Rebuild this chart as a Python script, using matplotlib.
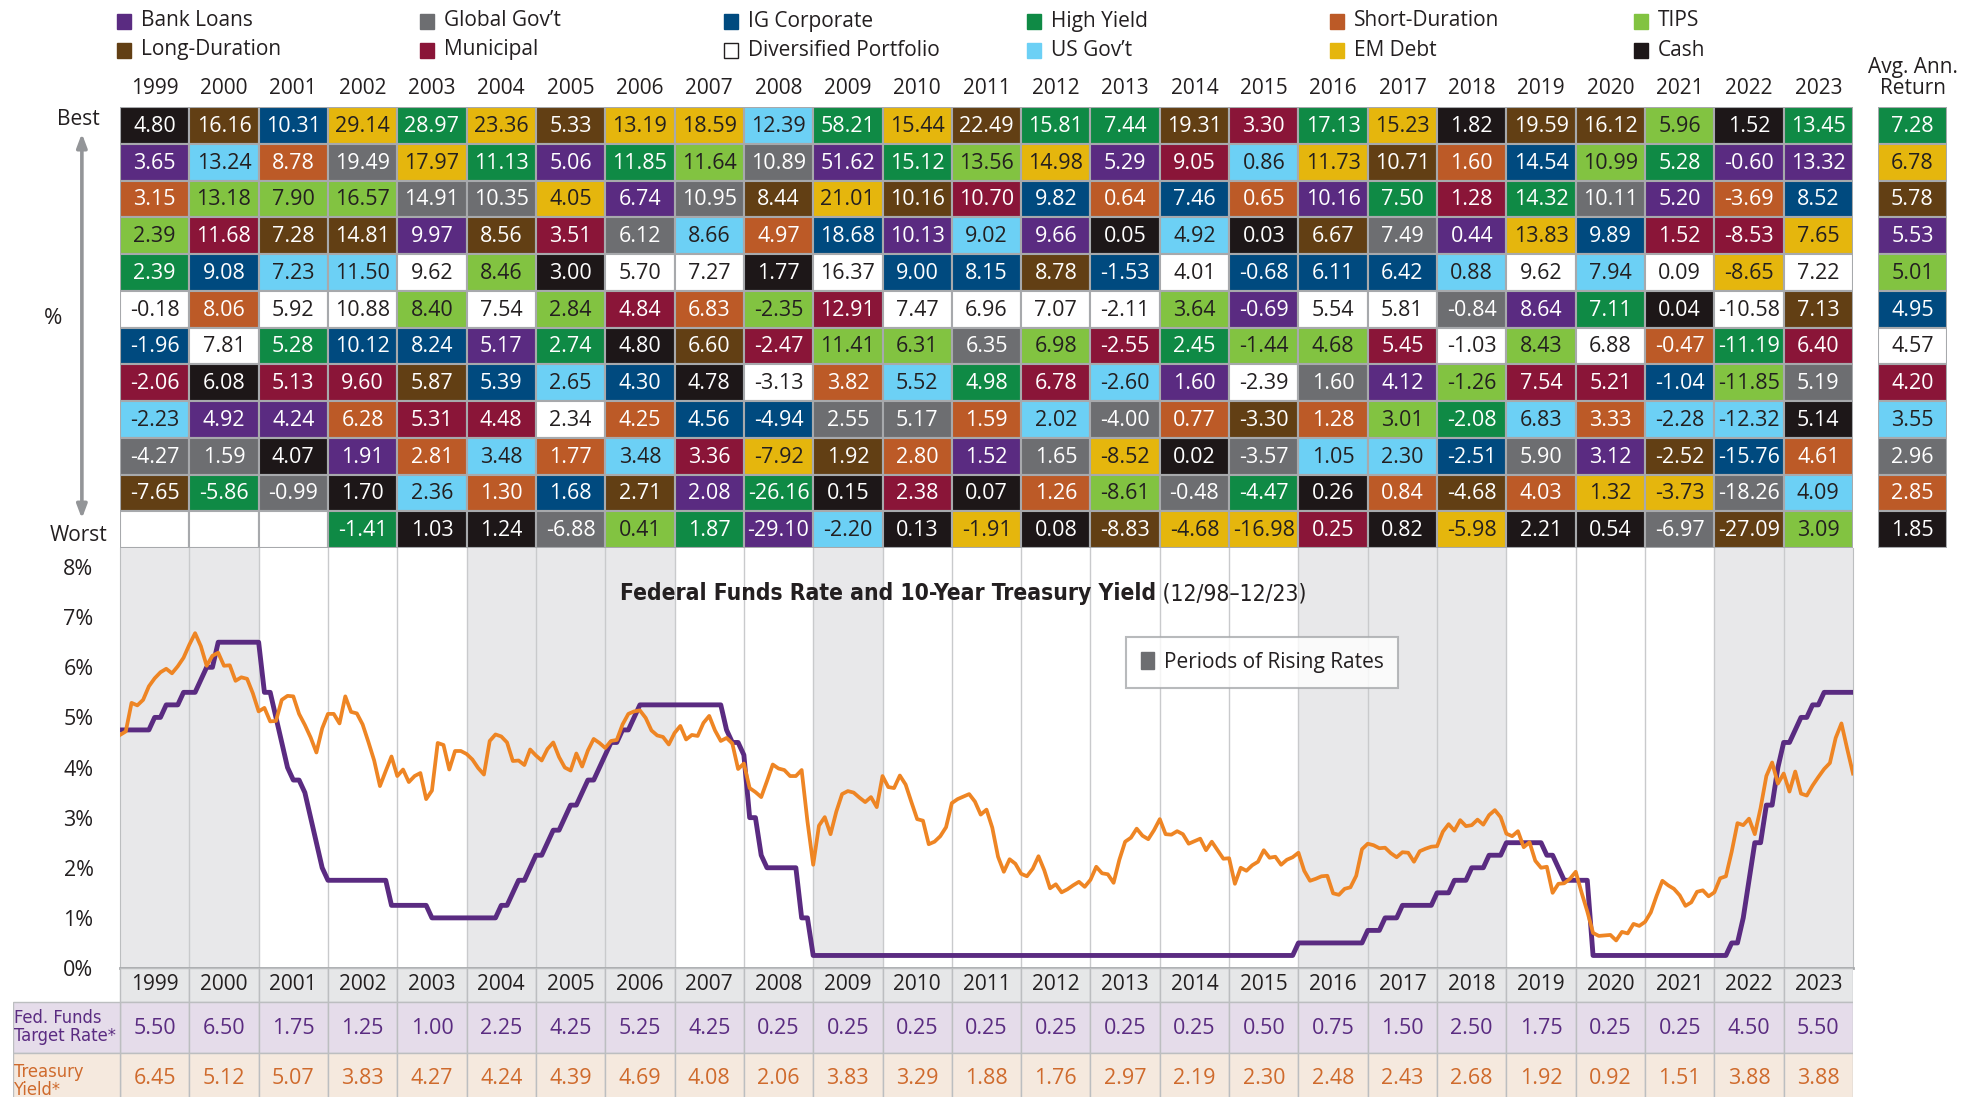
import matplotlib
matplotlib.use('Agg')
import numpy as np
import matplotlib.pyplot as plt
from matplotlib.patches import Rectangle, Patch
from matplotlib import font_manager as fm

# ---------------- DATA ----------------
years = list(range(1999, 2024))

class_names = {
    'BL': 'Bank Loans', 'GG': 'Global Gov\u2019t', 'IG': 'IG Corporate',
    'HY': 'High Yield', 'SD': 'Short-Duration', 'TI': 'TIPS',
    'LD': 'Long-Duration', 'MU': 'Municipal', 'DP': 'Diversified Portfolio',
    'UG': 'US Gov\u2019t', 'EM': 'EM Debt', 'CA': 'Cash',
}
legend_order = ['BL', 'GG', 'IG', 'HY', 'SD', 'TI',
                'LD', 'MU', 'DP', 'UG', 'EM', 'CA']

cell_classes = [
    ['CA','BL','SD','TI','HY','DP','IG','MU','UG','GG','LD'],
    ['LD','UG','TI','MU','IG','SD','DP','CA','BL','GG','HY'],
    ['IG','SD','TI','LD','UG','DP','HY','MU','BL','CA','GG'],
    ['EM','GG','TI','LD','UG','DP','IG','MU','SD','BL','CA','HY'],
    ['HY','EM','GG','BL','DP','TI','IG','LD','MU','SD','UG','CA'],
    ['EM','HY','GG','LD','TI','DP','BL','IG','MU','UG','SD','CA'],
    ['LD','BL','EM','MU','CA','TI','HY','UG','DP','SD','IG','GG'],
    ['EM','HY','BL','GG','DP','MU','CA','IG','SD','UG','LD','TI'],
    ['EM','TI','GG','UG','DP','SD','LD','CA','IG','MU','BL','HY'],
    ['UG','GG','LD','SD','CA','TI','MU','DP','IG','EM','HY','BL'],
    ['HY','BL','EM','IG','DP','MU','TI','SD','GG','LD','CA','UG'],
    ['EM','HY','LD','BL','IG','DP','TI','UG','GG','SD','MU','CA'],
    ['LD','TI','MU','UG','IG','DP','GG','HY','SD','BL','CA','EM'],
    ['HY','EM','IG','BL','LD','DP','TI','MU','UG','GG','SD','CA'],
    ['HY','BL','SD','CA','IG','DP','MU','UG','GG','EM','TI','LD'],
    ['LD','MU','IG','UG','DP','TI','HY','BL','SD','CA','GG','EM'],
    ['MU','UG','SD','CA','IG','BL','TI','DP','LD','GG','HY','EM'],
    ['HY','EM','BL','LD','IG','DP','TI','GG','SD','UG','CA','MU'],
    ['EM','LD','HY','GG','IG','DP','MU','BL','TI','UG','SD','CA'],
    ['CA','SD','MU','BL','UG','GG','DP','TI','HY','IG','LD','EM'],
    ['LD','IG','HY','EM','DP','BL','TI','MU','UG','GG','SD','CA'],
    ['LD','TI','GG','IG','UG','HY','DP','MU','SD','BL','EM','CA'],
    ['TI','HY','BL','MU','DP','CA','SD','IG','UG','LD','EM','GG'],
    ['CA','BL','SD','MU','EM','DP','HY','TI','UG','IG','GG','LD'],
    ['HY','BL','IG','EM','DP','LD','MU','GG','CA','SD','UG','TI'],
]
cell_returns = [
    [4.80,3.65,3.15,2.39,2.39,-0.18,-1.96,-2.06,-2.23,-4.27,-7.65],
    [16.16,13.24,13.18,11.68,9.08,8.06,7.81,6.08,4.92,1.59,-5.86],
    [10.31,8.78,7.90,7.28,7.23,5.92,5.28,5.13,4.24,4.07,-0.99],
    [29.14,19.49,16.57,14.81,11.50,10.88,10.12,9.60,6.28,1.91,1.70,-1.41],
    [28.97,17.97,14.91,9.97,9.62,8.40,8.24,5.87,5.31,2.81,2.36,1.03],
    [23.36,11.13,10.35,8.56,8.46,7.54,5.17,5.39,4.48,3.48,1.30,1.24],
    [5.33,5.06,4.05,3.51,3.00,2.84,2.74,2.65,2.34,1.77,1.68,-6.88],
    [13.19,11.85,6.74,6.12,5.70,4.84,4.80,4.30,4.25,3.48,2.71,0.41],
    [18.59,11.64,10.95,8.66,7.27,6.83,6.60,4.78,4.56,3.36,2.08,1.87],
    [12.39,10.89,8.44,4.97,1.77,-2.35,-2.47,-3.13,-4.94,-7.92,-26.16,-29.10],
    [58.21,51.62,21.01,18.68,16.37,12.91,11.41,3.82,2.55,1.92,0.15,-2.20],
    [15.44,15.12,10.16,10.13,9.00,7.47,6.31,5.52,5.17,2.80,2.38,0.13],
    [22.49,13.56,10.70,9.02,8.15,6.96,6.35,4.98,1.59,1.52,0.07,-1.91],
    [15.81,14.98,9.82,9.66,8.78,7.07,6.98,6.78,2.02,1.65,1.26,0.08],
    [7.44,5.29,0.64,0.05,-1.53,-2.11,-2.55,-2.60,-4.00,-8.52,-8.61,-8.83],
    [19.31,9.05,7.46,4.92,4.01,3.64,2.45,1.60,0.77,0.02,-0.48,-4.68],
    [3.30,0.86,0.65,0.03,-0.68,-0.69,-1.44,-2.39,-3.30,-3.57,-4.47,-16.98],
    [17.13,11.73,10.16,6.67,6.11,5.54,4.68,1.60,1.28,1.05,0.26,0.25],
    [15.23,10.71,7.50,7.49,6.42,5.81,5.45,4.12,3.01,2.30,0.84,0.82],
    [1.82,1.60,1.28,0.44,0.88,-0.84,-1.03,-1.26,-2.08,-2.51,-4.68,-5.98],
    [19.59,14.54,14.32,13.83,9.62,8.64,8.43,7.54,6.83,5.90,4.03,2.21],
    [16.12,10.99,10.11,9.89,7.94,7.11,6.88,5.21,3.33,3.12,1.32,0.54],
    [5.96,5.28,5.20,1.52,0.09,0.04,-0.47,-1.04,-2.28,-2.52,-3.73,-6.97],
    [1.52,-0.60,-3.69,-8.53,-8.65,-10.58,-11.19,-11.85,-12.32,-15.76,-18.26,-27.09],
    [13.45,13.32,8.52,7.65,7.22,7.13,6.40,5.19,5.14,4.61,4.09,3.09],
]
avg_classes = ['HY','EM','LD','BL','TI','IG','DP','MU','UG','GG','SD','CA']
avg_returns = [7.28,6.78,5.78,5.53,5.01,4.95,4.57,4.20,3.55,2.96,2.85,1.85]

rising_years = [1999, 2000, 2004, 2005, 2006, 2009, 2016, 2017, 2018, 2022, 2023]

# monthly, 12/98 .. 12/23
fed_funds_monthly = [
    4.75,
    4.75,4.75,4.75,4.75,4.75,5.00,5.00,5.25,5.25,5.25,5.50,5.50,
    5.50,5.75,6.00,6.00,6.50,6.50,6.50,6.50,6.50,6.50,6.50,6.50,
    5.50,5.50,5.00,4.50,4.00,3.75,3.75,3.50,3.00,2.50,2.00,1.75,
    1.75,1.75,1.75,1.75,1.75,1.75,1.75,1.75,1.75,1.75,1.25,1.25,
    1.25,1.25,1.25,1.25,1.25,1.00,1.00,1.00,1.00,1.00,1.00,1.00,
    1.00,1.00,1.00,1.00,1.00,1.25,1.25,1.50,1.75,1.75,2.00,2.25,
    2.25,2.50,2.75,2.75,3.00,3.25,3.25,3.50,3.75,3.75,4.00,4.25,
    4.50,4.50,4.75,4.75,5.00,5.25,5.25,5.25,5.25,5.25,5.25,5.25,
    5.25,5.25,5.25,5.25,5.25,5.25,5.25,5.25,4.75,4.50,4.50,4.25,
    3.00,3.00,2.25,2.00,2.00,2.00,2.00,2.00,2.00,1.00,1.00,0.25,
    0.25,0.25,0.25,0.25,0.25,0.25,0.25,0.25,0.25,0.25,0.25,0.25,
    0.25,0.25,0.25,0.25,0.25,0.25,0.25,0.25,0.25,0.25,0.25,0.25,
    0.25,0.25,0.25,0.25,0.25,0.25,0.25,0.25,0.25,0.25,0.25,0.25,
    0.25,0.25,0.25,0.25,0.25,0.25,0.25,0.25,0.25,0.25,0.25,0.25,
    0.25,0.25,0.25,0.25,0.25,0.25,0.25,0.25,0.25,0.25,0.25,0.25,
    0.25,0.25,0.25,0.25,0.25,0.25,0.25,0.25,0.25,0.25,0.25,0.25,
    0.25,0.25,0.25,0.25,0.25,0.25,0.25,0.25,0.25,0.25,0.25,0.50,
    0.50,0.50,0.50,0.50,0.50,0.50,0.50,0.50,0.50,0.50,0.50,0.75,
    0.75,0.75,1.00,1.00,1.00,1.25,1.25,1.25,1.25,1.25,1.25,1.50,
    1.50,1.50,1.75,1.75,1.75,2.00,2.00,2.00,2.25,2.25,2.25,2.50,
    2.50,2.50,2.50,2.50,2.50,2.50,2.25,2.25,2.00,1.75,1.75,1.75,
    1.75,1.75,0.25,0.25,0.25,0.25,0.25,0.25,0.25,0.25,0.25,0.25,
    0.25,0.25,0.25,0.25,0.25,0.25,0.25,0.25,0.25,0.25,0.25,0.25,
    0.25,0.25,0.50,0.50,1.00,1.75,2.50,2.50,3.25,3.25,4.00,4.50,
    4.50,4.75,5.00,5.00,5.25,5.25,5.50,5.50,5.50,5.50,5.50,5.50,
]
treasury_monthly = [
    4.65,
    4.72,5.29,5.24,5.35,5.62,5.78,5.90,5.97,5.88,6.02,6.19,6.45,
    6.68,6.42,6.03,6.23,6.29,6.03,6.04,5.73,5.80,5.77,5.48,5.12,
    5.19,4.92,4.93,5.35,5.43,5.42,5.07,4.85,4.60,4.30,4.78,5.07,
    5.07,4.88,5.42,5.11,5.08,4.86,4.51,4.14,3.63,3.93,4.22,3.83,
    3.96,3.71,3.83,3.89,3.37,3.54,4.49,4.45,3.96,4.33,4.33,4.27,
    4.16,3.99,3.86,4.53,4.66,4.62,4.50,4.13,4.14,4.05,4.36,4.24,
    4.14,4.37,4.50,4.21,4.00,3.94,4.28,4.02,4.34,4.57,4.49,4.39,
    4.53,4.55,4.86,5.07,5.12,5.14,4.99,4.74,4.64,4.61,4.46,4.69,
    4.83,4.56,4.65,4.63,4.89,5.03,4.74,4.53,4.59,4.48,3.97,4.08,
    3.59,3.51,3.41,3.73,4.06,3.98,3.95,3.83,3.83,3.95,2.93,2.06,
    2.84,3.01,2.67,3.12,3.47,3.53,3.50,3.40,3.31,3.41,3.21,3.83,
    3.61,3.59,3.84,3.66,3.31,2.97,2.94,2.47,2.52,2.63,2.81,3.29,
    3.37,3.42,3.47,3.32,3.06,3.16,2.80,2.22,1.92,2.17,2.08,1.88,
    1.83,1.98,2.23,1.95,1.59,1.67,1.51,1.57,1.65,1.72,1.62,1.76,
    2.02,1.89,1.87,1.70,2.16,2.52,2.60,2.78,2.64,2.57,2.75,2.97,
    2.67,2.66,2.73,2.67,2.48,2.53,2.58,2.35,2.52,2.35,2.18,2.19,
    1.68,2.00,1.94,2.05,2.12,2.35,2.20,2.22,2.06,2.16,2.21,2.30,
    1.94,1.74,1.78,1.83,1.84,1.49,1.46,1.58,1.61,1.84,2.37,2.48,
    2.45,2.39,2.40,2.29,2.21,2.31,2.30,2.12,2.33,2.38,2.42,2.43,
    2.72,2.87,2.74,2.95,2.83,2.85,2.96,2.86,3.05,3.15,3.01,2.68,
    2.63,2.73,2.41,2.51,2.14,2.00,2.02,1.50,1.68,1.69,1.78,1.92,
    1.51,1.13,0.70,0.64,0.65,0.66,0.55,0.72,0.69,0.88,0.84,0.92,
    1.11,1.44,1.74,1.65,1.58,1.45,1.24,1.31,1.52,1.55,1.43,1.51,
    1.79,1.83,2.32,2.89,2.85,2.98,2.67,3.19,3.83,4.10,3.68,3.88,
    3.52,3.92,3.48,3.44,3.64,3.81,3.97,4.09,4.59,4.88,4.37,3.88,
]
fed_target_year_end = [5.50,6.50,1.75,1.25,1.00,2.25,4.25,5.25,4.25,0.25,0.25,0.25,0.25,
                       0.25,0.25,0.25,0.50,0.75,1.50,2.50,1.75,0.25,0.25,4.50,5.50]
treasury_year_end = [6.45,5.12,5.07,3.83,4.27,4.24,4.39,4.69,4.08,2.06,3.83,3.29,1.88,
                     1.76,2.97,2.19,2.30,2.48,2.43,2.68,1.92,0.92,1.51,3.88,3.88]

# ---------------- STYLE ----------------
COLORS = {
    'BL': '#5a2b81', 'GG': '#6d6e71', 'IG': '#004a7f', 'HY': '#0f8a45',
    'SD': '#bc5a27', 'TI': '#82c341', 'LD': '#623f14', 'MU': '#8a1538',
    'DP': '#ffffff', 'UG': '#6cd0f5', 'EM': '#e5b60d', 'CA': '#1d1718',
}
DARK_TEXT = {'TI', 'EM', 'UG', 'DP'}
INK = '#231f20'
EDGE = '#a7a9ac'
PURPLE = '#5a2b81'
ORANGE = '#ee8524'
TSY_TXT = '#cf6a2c'

names = {f.name for f in fm.fontManager.ttflist}
BASE = 'Open Sans' if 'Open Sans' in names else 'DejaVu Sans'


def _is_bold(w):
    try:
        return int(w) >= 600
    except (TypeError, ValueError):
        return str(w).lower() in ('bold', 'heavy', 'black', 'extra bold', 'semibold', 'demibold')


def _is_cond(f):
    return ('Narrow' in f.name or 'Condensed' in f.name or
            str(f.stretch) in ('condensed', 'semi-condensed', 'extra-condensed'))


cond = [f for f in fm.fontManager.ttflist if _is_cond(f)]
cond_bold = [f for f in cond if _is_bold(f.weight)]
cond_reg = [f for f in cond if not _is_bold(f.weight)]
if cond_bold:
    NB_FAM, NB_ST = cond_bold[0].name, str(cond_bold[0].stretch)
else:
    NB_FAM, NB_ST = ('Roboto' if 'Roboto' in names else BASE), 'normal'
if cond_reg:
    NR_FAM, NR_ST = cond_reg[0].name, str(cond_reg[0].stretch)
else:
    NR_FAM, NR_ST = NB_FAM, NB_ST

plt.rcParams['font.family'] = [BASE, 'DejaVu Sans']

W, H = 1979, 1097
fig = plt.figure(figsize=(W / 100, H / 100), dpi=100)
fig.patch.set_facecolor('white')


def ax_px(left, top, right, bottom):
    return fig.add_axes([left / W, 1 - bottom / H, (right - left) / W, (bottom - top) / H])


NCOL = len(years)
NROW = 12
CELL_FS = 15.5

# ---------------- legend at top ----------------
ax_lg = ax_px(0, 0, W, 70)
ax_lg.set_xlim(0, W)
ax_lg.set_ylim(70, 0)
ax_lg.axis('off')
for k, code in enumerate(legend_order):
    col, row = k % 6, k // 6
    x0 = 117 + col * 303.3
    y0 = 21 + row * 29
    ax_lg.add_patch(Rectangle((x0, y0 - 7.5), 14, 15, facecolor=COLORS[code],
                              edgecolor=INK if code == 'DP' else COLORS[code], lw=1.0))
    ax_lg.text(x0 + 24, y0, class_names[code], va='center', ha='left',
               fontsize=15, color=INK)

# ---------------- asset class table ----------------
ax_t = ax_px(120, 107, 1853, 548)
ax_t.set_xlim(0, NCOL)
ax_t.set_ylim(NROW, 0)
ax_t.axis('off')
for j, yr in enumerate(years):
    cls = cell_classes[j]
    vals = cell_returns[j]
    for i in range(NROW):
        if i < len(cls):
            c = cls[i]
            ax_t.add_patch(Rectangle((j, i), 1, 1, facecolor=COLORS[c], edgecolor=EDGE, lw=1.5))
            ax_t.text(j + 0.5, i + 0.53, f'{vals[i]:.2f}', ha='center', va='center',
                      fontsize=CELL_FS, color=INK if c in DARK_TEXT else 'white')
        else:
            ax_t.add_patch(Rectangle((j, i), 1, 1, facecolor='white', edgecolor=EDGE, lw=1.5))
    ax_t.text(j + 0.5, -0.5, str(yr), ha='center', va='center', fontsize=15,
              color=INK, clip_on=False)

ax_t.text(-0.6, 0.33, 'Best', ha='center', va='center', fontsize=15, color=INK, clip_on=False)
ax_t.text(-0.6, 11.66, 'Worst', ha='center', va='center', fontsize=15, color=INK, clip_on=False)
ax_t.text(-0.97, 5.75, '%', ha='center', va='center', fontsize=16, color=INK, clip_on=False)
ax_t.annotate('', xy=(-0.55, 0.72), xytext=(-0.55, 11.2), annotation_clip=False,
              arrowprops=dict(arrowstyle='<|-|>,head_width=0.3,head_length=0.8',
                              color='#939598', lw=2.6, shrinkA=0, shrinkB=0))

# average annual return column
ax_a = ax_px(1878, 107, 1947, 548)
ax_a.set_xlim(0, 1)
ax_a.set_ylim(NROW, 0)
ax_a.axis('off')
for i, (c, v) in enumerate(zip(avg_classes, avg_returns)):
    ax_a.add_patch(Rectangle((0, i), 1, 1, facecolor=COLORS[c], edgecolor=EDGE, lw=1.5))
    ax_a.text(0.5, i + 0.53, f'{v:.2f}', ha='center', va='center', fontsize=CELL_FS,
              color=INK if c in DARK_TEXT else 'white')
ax_a.text(0.5, -1.07, 'Avg. Ann.', ha='center', va='center', fontsize=15, color=INK, clip_on=False)
ax_a.text(0.5, -0.5, 'Return', ha='center', va='center', fontsize=15, color=INK, clip_on=False)

# ---------------- rates chart ----------------
ax_c = ax_px(120, 548, 1853, 968)
ax_c.set_xlim(0, NCOL)
ax_c.set_ylim(0, 8.38)
for j, yr in enumerate(years):
    if yr in rising_years:
        ax_c.axvspan(j, j + 1, color='#e8e8ea', lw=0, zorder=0)
for k in range(1, NCOL):
    ax_c.axvline(k, color='#c9cacc', lw=1.0, zorder=1)
months = np.arange(len(fed_funds_monthly)) / 12.0
ax_c.plot(months, fed_funds_monthly, color=PURPLE, lw=3.5, zorder=3)
ax_c.plot(months, treasury_monthly, color=ORANGE, lw=2.7, zorder=4)
ax_c.set_yticks(range(9))
ax_c.set_yticklabels([f'{t}%' for t in range(9)], fontsize=15.5, color=INK)
ax_c.tick_params(axis='y', length=0, pad=19)
ax_c.set_xticks([])
ax_c.spines['top'].set_visible(False)
ax_c.spines['left'].set_color('#bcbec0')
ax_c.spines['right'].set_color('#bcbec0')
ax_c.spines['bottom'].set_color('#a7a9ac')
ax_c.spines['bottom'].set_linewidth(2)
ax_c.set_facecolor('white')

TITLE_JOIN = 14.95
t1 = ax_c.text(TITLE_JOIN, 7.47, 'Federal Funds Rate and 10-Year Treasury Yield',
               ha='right', va='center', fontsize=17, fontweight='bold',
               family=[NB_FAM, 'DejaVu Sans'], fontstretch=NB_ST, color=INK)
t2 = ax_c.text(TITLE_JOIN, 7.47, ' (12/98\u201312/23)', ha='left', va='center', fontsize=17,
               family=[NR_FAM, 'DejaVu Sans'], fontstretch=NR_ST, color=INK)

leg = ax_c.legend(handles=[Patch(facecolor='#6d6e71', edgecolor='#6d6e71',
                                 label='Periods of Rising Rates')],
                  loc='center', bbox_to_anchor=(0.659, 0.728), frameon=True,
                  fancybox=False, fontsize=15, handlelength=0.65, handleheight=0.85,
                  handletextpad=0.45, borderpad=0.72, borderaxespad=0)
leg.get_frame().set_edgecolor('#a7a9ac')
leg.get_frame().set_linewidth(1.5)
for txt in leg.get_texts():
    txt.set_color(INK)

# ---------------- bottom rows ----------------
LW_LEFT = (120 - 13) / ((1853 - 120) / NCOL)
ax_b = ax_px(13, 968, 1853, 1097)
ax_b.set_xlim(-LW_LEFT, NCOL)
ax_b.set_ylim(129, 0)
ax_b.axis('off')
for j, yr in enumerate(years):
    ax_b.add_patch(Rectangle((j, 0), 1, 34, facecolor='#e6e7e8', edgecolor='#bcbec0', lw=1.0))
    ax_b.add_patch(Rectangle((j, 34), 1, 51, facecolor='#e5dcea', edgecolor='#bcbec0', lw=1.0))
    ax_b.add_patch(Rectangle((j, 85), 1, 50, facecolor='#f5e9de', edgecolor='#bcbec0', lw=1.0))
    ax_b.text(j + 0.5, 16, str(yr), ha='center', va='center', fontsize=15, color=INK)
    ax_b.text(j + 0.5, 60, f'{fed_target_year_end[j]:.2f}', ha='center', va='center',
              fontsize=15.5, color=PURPLE)
    ax_b.text(j + 0.5, 110, f'{treasury_year_end[j]:.2f}', ha='center', va='center',
              fontsize=15.5, color=TSY_TXT)
ax_b.add_patch(Rectangle((-LW_LEFT, 34), LW_LEFT, 51, facecolor='#e5dcea', edgecolor='#bcbec0', lw=1.0))
ax_b.add_patch(Rectangle((-LW_LEFT, 85), LW_LEFT, 50, facecolor='#f5e9de', edgecolor='#bcbec0', lw=1.0))
lab1 = ax_b.text(-LW_LEFT + 0.02, 59, 'Fed. Funds\nTarget Rate*', ha='left', va='center',
                 fontsize=15, color=PURPLE, linespacing=1.0,
                 family=[NR_FAM, 'DejaVu Sans'], fontstretch=NR_ST)
lab2 = ax_b.text(-LW_LEFT + 0.02, 113, 'Treasury\nYield*', ha='left', va='center',
                 fontsize=15, color=TSY_TXT, linespacing=1.0,
                 family=[NR_FAM, 'DejaVu Sans'], fontstretch=NR_ST)

# fit title and row-label widths to the reference layout
fig.canvas.draw()
r = fig.canvas.get_renderer()
for t, target in ((t1, 535), (lab1, 102)):
    w = t.get_window_extent(r).width
    if w > 0:
        t.set_fontsize(t.get_fontsize() * target / w)
t2.set_fontsize(t1.get_fontsize())
lab2.set_fontsize(lab1.get_fontsize())

fig.savefig('out.png', dpi=100, facecolor='white')
